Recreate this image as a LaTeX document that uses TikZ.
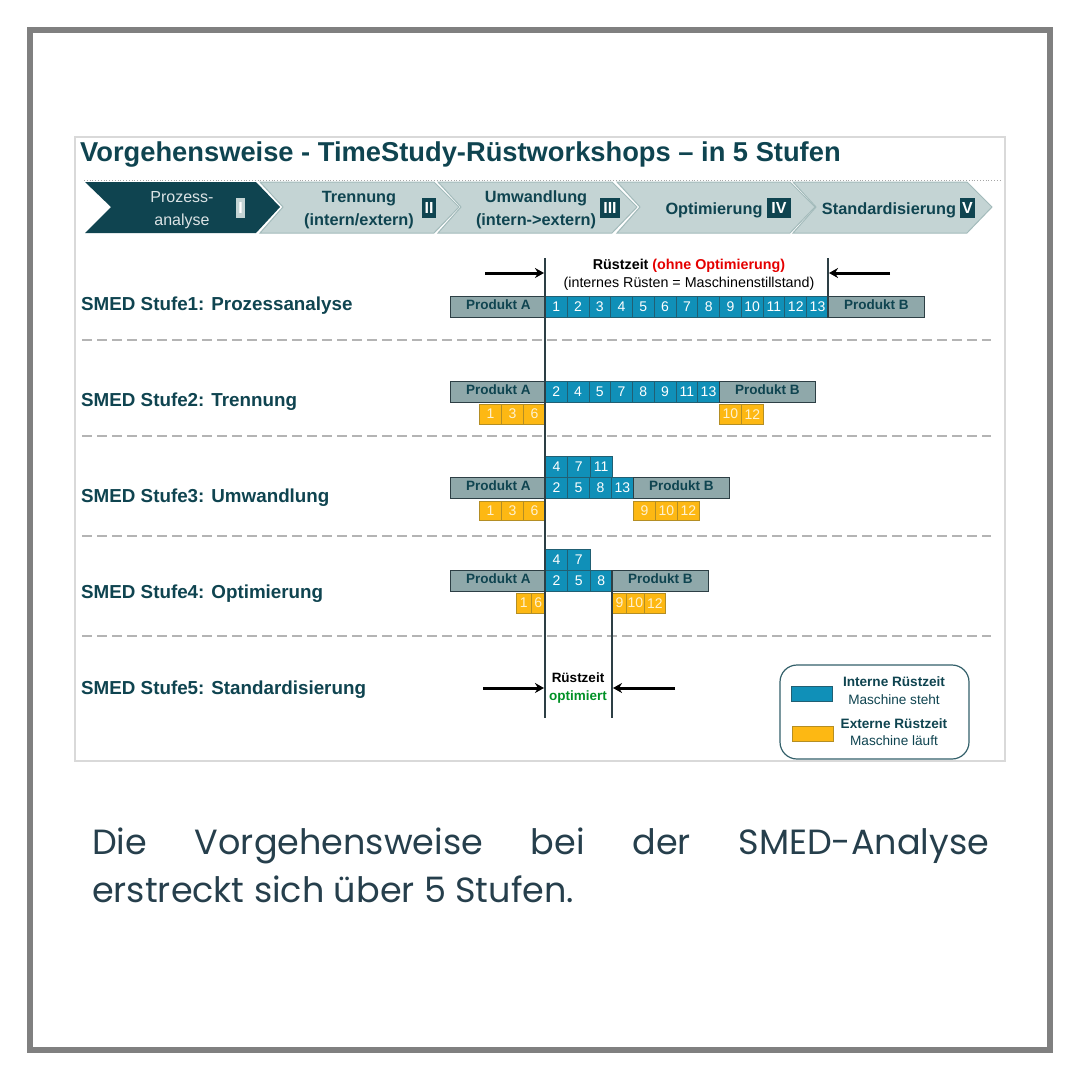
\documentclass[tikz,border=0pt]{standalone}
\usepackage{fontspec}
\usetikzlibrary{arrows.meta}
\setmainfont{Liberation Sans}
\newfontfamily\captionfont{Poppins}
\definecolor{dteal}{HTML}{0F4450}
\definecolor{lteal}{HTML}{C4D4D4}
\definecolor{eteal}{HTML}{A3BBBB}
\definecolor{cblue}{HTML}{1090B8}
\definecolor{cyellow}{HTML}{FDB813}
\definecolor{prodgray}{HTML}{8FA8AA}
\definecolor{barline}{HTML}{2D3F45}
\definecolor{dashgray}{HTML}{B4B4B4}
\definecolor{capcol}{HTML}{263F4C}
\begin{document}
\begin{tikzpicture}[
  x=1pt, y=-1pt,
  chev/.style={draw=eteal, line width=1pt, fill=lteal},
  chevtext/.style={align=center, font=\fontsize{16.3}{23}\selectfont\bfseries, text=dteal, inner sep=0pt},
  roman/.style={fill=dteal, text=white, font=\fontsize{16}{16}\selectfont\bfseries, inner sep=0pt, minimum height=20pt},
  stage/.style={anchor=west, inner sep=0pt, font=\fontsize{18.8}{18.8}\selectfont\bfseries, text=dteal},
  sep/.style={draw=dashgray, line width=1.2pt, dash pattern=on 10pt off 5pt},
  cellb/.style={draw=barline!60!cblue, line width=.8pt, fill=cblue, text=white, anchor=north west, inner sep=0pt, minimum width=21.8pt, minimum height=21pt, font=\fontsize{14}{14}\selectfont},
  celly/.style={draw=barline!35!cyellow, line width=.8pt, fill=cyellow, text=white!80!cyellow, anchor=north west, inner sep=0pt, minimum width=22pt, minimum height=19.5pt, font=\fontsize{14}{14}\selectfont},
  prod/.style={draw=barline, line width=1.2pt, fill=prodgray, text=dteal, anchor=north west, inner sep=0pt, minimum width=95.5pt, minimum height=21pt, text height=9pt, text depth=4pt, font=\fontsize{13.5}{13.5}\selectfont\bfseries},
  vline/.style={draw=barline, line width=1.2pt},
  timearrow/.style={-{Stealth[length=9pt,width=10pt]}, line width=3pt, black},
  small/.style={inner sep=0pt, align=center, font=\fontsize{14.3}{14.3}\selectfont},
  legendtext/.style={inner sep=0pt, align=center, text=dteal, font=\fontsize{13.6}{13.6}\selectfont}
]
% frame and panel
\draw[draw=black!50, line width=6pt] (30,30) rectangle (1050,1050);
\useasboundingbox (0,0) rectangle (1080,1080);
\draw[draw=black!15, line width=1.2pt, fill=white] (75,137) rectangle (1005,761);
\node[anchor=west, inner sep=0pt, font=\fontsize{27.3}{27.3}\selectfont\bfseries, text=dteal] (title) at (80,154) {Vorgehensweise - TimeStudy-R\"ustworkshops -- in 5 Stufen};

% chevrons
\draw[draw=black!35, line width=.8pt, dotted] (84,180.5) -- (1002,180.5);
\foreach \a/\b in {260/434, 438/612, 617/790, 793/967}
  \draw[chev] (\a,182) -- (\b,182) -- ({\b+25},207) -- (\b,233) -- (\a,233) -- ({\a+23},207) -- cycle;
\draw[draw=none, fill=dteal] (85,182) -- (256,182) -- (280,207) -- (256,233) -- (85,233) -- (111,207) -- cycle;

\node[chevtext, text=white!85!dteal, font=\fontsize{16}{23}\selectfont\mdseries] (c1) at (182,210) {Prozess-\\analyse};
\node[chevtext] (c2) at (359,210) {Trennung\\(intern/extern)};
\node[chevtext] (c3) at (536,210) {Umwandlung\\(intern->extern)};
\node[chevtext] (c4) at (714,210) {Optimierung};
\node[chevtext] (c5) at (889,210) {Standardisierung};
\node[roman, fill=lteal, text=white, minimum width=9pt] (r1) at (240.5,208) {I};
\node[roman, minimum width=14pt] (r2) at (429,208) {II};
\node[roman, minimum width=20pt] (r3) at (610,208) {III};
\node[roman, minimum width=24pt] (r4) at (779,208) {IV};
\node[roman, minimum width=15pt] (r5) at (967.5,208) {V};

% stages
\node[stage] (s1) at (81,306) {SMED Stufe1: Prozessanalyse};
\node[stage] (s2) at (81,402) {SMED Stufe2: Trennung};
\node[stage] (s3) at (81,498) {SMED Stufe3: Umwandlung};
\node[stage] (s4) at (81,594) {SMED Stufe4: Optimierung};
\node[stage] (s5) at (81,690) {SMED Stufe5: Standardisierung};
\foreach \y in {340,436,536,636}
  \draw[sep] (82,\y) -- (991,\y);

% stufe 1
\node[prod] (a1) at (450,296) {Produkt A};
\foreach \n [count=\i from 0] in {1,...,13}
  \node[cellb, minimum width=21.77pt] (s1c\n) at ({545+21.77*\i},296) {\n};
\node[prod] (b1) at (828,296) {Produkt B};

% stufe 2
\node[prod] (a2) at (450,381) {Produkt A};
\foreach \n [count=\i from 0] in {2,4,5,7,8,9,11,13}
  \node[cellb, minimum width=21.75pt] (s2c\n) at ({545+21.75*\i},381) {\n};
\node[prod] (b2) at (719,381) {Produkt B};
\foreach \n [count=\i from 0] in {1,3,6}
  \node[celly] (s2y\n) at ({479+22*\i},404) {\n};
\foreach \n [count=\i from 0] in {10,12}
  \node[celly] (s2y\n) at ({719+22*\i},404) {\n};

% stufe 3
\foreach \n [count=\i from 0] in {4,7,11}
  \node[cellb, minimum width=22.3pt] (s3t\n) at ({545+22.3*\i},456) {\n};
\node[prod] (a3) at (450,477) {Produkt A};
\foreach \n [count=\i from 0] in {2,5,8,13}
  \node[cellb, minimum width=22pt] (s3c\n) at ({545+22*\i},477) {\n};
\node[prod] (b3) at (633,477) {Produkt B};
\foreach \n [count=\i from 0] in {1,3,6}
  \node[celly] (s3y\n) at ({479+22*\i},500.5) {\n};
\foreach \n [count=\i from 0] in {9,10,12}
  \node[celly] (s3y\n) at ({633+22*\i},500.5) {\n};

% stufe 4
\foreach \n [count=\i from 0] in {4,7}
  \node[cellb, minimum width=22.3pt] (s4t\n) at ({545+22.3*\i},549) {\n};
\node[prod] (a4) at (450,570) {Produkt A};
\foreach \n [count=\i from 0] in {2,5,8}
  \node[cellb, minimum width=22.3pt] (s4c\n) at ({545+22.3*\i},570) {\n};
\node[prod] (b4) at (612,570) {Produkt B};
\foreach \n/\x/\w in {1/516/14.5, 6/530.5/14.5, 9/612/14, 10/626/18, 12/644/21}
  \node[celly, minimum width=\w pt] (s4y\n) at (\x,593) {\n};

% time marks
\coordinate (ltop) at (545,258);
\coordinate (lbot) at (545,718);
\coordinate (rtop) at (828,258);
\coordinate (rbot) at (828,318);
\coordinate (otop) at (612,570);
\coordinate (obot) at (612,718);
\draw[vline] (ltop) -- (lbot);
\draw[vline] (rtop) -- (rbot);
\draw[vline] (otop) -- (obot);

\coordinate (a1s) at (485,273);
\coordinate (a1e) at (544,273);
\coordinate (a2s) at (890,273);
\coordinate (a2e) at (829,273);
\coordinate (a3s) at (483,688);
\coordinate (a3e) at (544,688);
\coordinate (a4s) at (675,688);
\coordinate (a4e) at (613,688);
\draw[timearrow] (a1s) -- (a1e);
\draw[timearrow] (a2s) -- (a2e);
\draw[timearrow] (a3s) -- (a3e);
\draw[timearrow] (a4s) -- (a4e);

\node[small] (rz1) at (689,266) {\textbf{R\"ustzeit} \textcolor{red!90!black}{\textbf{(ohne Optimierung)}}};
\node[small] (rz2) at (689,283.5) {(internes R\"usten = Maschinenstillstand)};
\node[small, font=\fontsize{13.5}{13.5}\selectfont] (rz3) at (578,678) {\textbf{R\"ustzeit}};
\node[small, font=\fontsize{13.5}{13.5}\selectfont, text=green!60!black!70!teal] (rz4) at (578,697) {\textbf{optimiert}};

% legend
\draw[draw=dteal!85, line width=1.2pt, rounded corners=17pt] (780,665) rectangle (969,759);
\node[draw=barline!60!cblue, fill=cblue, minimum width=41pt, minimum height=15pt, inner sep=0pt] (lb) at (812,693.5) {};
\node[draw=barline!35!cyellow, fill=cyellow, minimum width=41pt, minimum height=15pt, inner sep=0pt] (ly) at (812.5,733.5) {};
\node[legendtext, font=\fontsize{13.6}{13.6}\selectfont\bfseries] (l1) at (894,682) {Interne R\"ustzeit};
\node[legendtext] (l2) at (894,700) {Maschine steht};
\node[legendtext, font=\fontsize{13.6}{13.6}\selectfont\bfseries] (l3) at (894,723.5) {Externe R\"ustzeit};
\node[legendtext] (l4) at (894,741) {Maschine l\"auft};

% caption
\node[anchor=north west, inner sep=0pt, text width=897pt, align=justify, text=capcol, font=\captionfont\fontsize{35}{48}\selectfont] (cap) at (92,828) {\tolerance=10000\hyphenpenalty=10000 Die Vorgehensweise bei der SMED-Analyse\linebreak erstreckt sich \"uber 5 Stufen.};
\end{tikzpicture}
\end{document}
